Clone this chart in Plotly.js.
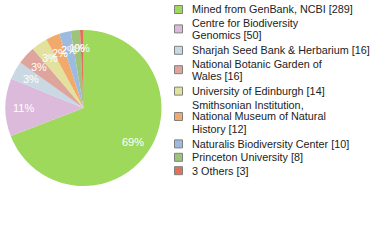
<!DOCTYPE html>
<html>
<head>
<meta charset="utf-8">
<script src="https://cdn.plot.ly/plotly-3.0.1.min.js"></script>
<style>html,body{margin:0;padding:0;background:#fff;}#chart{width:380px;height:240px;}</style>
</head>
<body>
<div id="chart"></div>
<script>
const labels = [
  "Mined from GenBank, NCBI [289]",
  "Centre for Biodiversity|Genomics [50]",
  "Sharjah Seed Bank & Herbarium [16]",
  "National Botanic Garden of|Wales [16]",
  "University of Edinburgh [14]",
  "Smithsonian Institution,|National Museum of Natural|History [12]",
  "Naturalis Biodiversity Center [10]",
  "Princeton University [8]",
  "3 Others [3]"
];
const values = [289, 50, 16, 16, 14, 12, 10, 8, 3];
const colors = ["#9ed95b", "#dbbadb", "#c9d9e3", "#dea59c", "#e2e29e", "#f1aa6b", "#9dbbe0", "#9dc47a", "#e0725a"];

const W = 380, H = 240;
const total = values.reduce((a, b) => a + b, 0);
const pctText = values.map(v => Math.floor(v / total * 100) + "%");

// pie geometry (layout)
const pie = {x0: 5, x1: 162, y0: 30, y1: 186};
const cx = (pie.x0 + pie.x1) / 2, cy = (pie.y0 + pie.y1) / 2;
const R = Math.min(pie.x1 - pie.x0, pie.y1 - pie.y0) / 2;
const labelR = 0.77;

const annotations = [];
const shapes = [];

// percent labels along slice mid-angles (clockwise from 12 o'clock)
let cum = 0;
values.forEach((v, i) => {
  const mid = (cum + v / 2) / total * 2 * Math.PI;
  cum += v;
  const px = cx + labelR * R * Math.sin(mid);
  const py = cy - labelR * R * Math.cos(mid);
  annotations.push({
    xref: "paper", yref: "paper", x: px / W, y: 1 - py / H,
    xanchor: "center", yanchor: "middle", showarrow: false,
    text: pctText[i], font: {family: "Liberation Sans", size: 11, color: "#ffffff"}
  });
});

// legend
const lgSqX = 174.5, lgTxtX = 190, lineGap = 12;
let y = 9.5;
labels.forEach((lab, i) => {
  const lines = lab.split("|");
  lines.forEach((ln, k) => {
    annotations.push({
      xref: "paper", yref: "paper", x: lgTxtX / W, y: 1 - (y + k * lineGap) / H,
      xanchor: "left", yanchor: "middle", showarrow: false,
      text: ln.replace(/&/g, "&amp;"), font: {family: "Liberation Sans", size: 10.8, color: "#222222"}
    });
  });
  const sc = y + (lines.length - 1) * lineGap / 2;
  shapes.push({
    type: "rect", xref: "paper", yref: "paper",
    x0: lgSqX / W, x1: (lgSqX + 8) / W, y0: 1 - (sc - 4) / H, y1: 1 - (sc + 4) / H,
    fillcolor: colors[i], line: {color: "#808080", width: 1}
  });
  y += (lines.length - 1) * lineGap + 13.4 + (lines.length > 1 ? 2 : 0);
});

Plotly.newPlot("chart", [{
  type: "pie",
  labels: labels.map(l => l.replace(/\|/g, " ")),
  values: values,
  textinfo: "none",
  sort: false,
  direction: "clockwise",
  rotation: 0,
  marker: {colors: colors, line: {width: 0}},
  domain: {x: [pie.x0 / W, pie.x1 / W], y: [1 - pie.y1 / H, 1 - pie.y0 / H]},
  hoverinfo: "none"
}], {
  width: W, height: H,
  margin: {l: 0, r: 0, t: 0, b: 0},
  paper_bgcolor: "#ffffff",
  showlegend: false,
  annotations: annotations,
  shapes: shapes
}, {staticPlot: true});
</script>
</body>
</html>
